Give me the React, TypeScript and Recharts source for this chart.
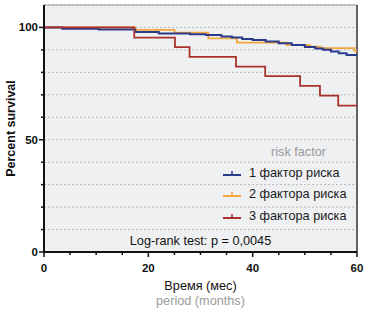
import { ComposedChart, Line, XAxis, YAxis, CartesianGrid, ReferenceLine, Legend } from "recharts"

// Kaplan-Meier steps (months / percent survival)
const seriesNames = ["1 фактор риска", "2 фактора риска", "3 фактора риска"]
const seriesColors = ["#2c3a8c", "#f2a73a", "#a9332b"]

const oneFactorTime = [0, 3.5, 10.5, 17.5, 22, 28, 31, 34, 36, 38, 40, 42.5, 45, 47.5, 50, 52, 53.5, 55, 56.5, 58, 60]
const oneFactorSurv = [100, 99.4, 99.1, 98.0, 97.3, 97.0, 96.6, 96.0, 95.5, 94.9, 94.4, 93.7, 93.0, 92.2, 91.3, 90.6, 90.1, 89.3, 88.5, 87.7, 87.6]

const twoFactorTime = [0, 17.5, 25, 31.5, 37, 46.5, 51, 53, 59.5, 60]
const twoFactorSurv = [100, 98.9, 97.7, 95.1, 93.2, 92.1, 91.4, 90.8, 89.6, 89.6]

const threeFactorTime = [0, 17.3, 25.1, 27.9, 36.8, 42.4, 49.1, 52.9, 56.4, 60]
const threeFactorSurv = [100, 95.5, 91.2, 86.9, 82.6, 78.3, 74.0, 69.6, 65.2, 65.2]

const xTicks = [0, 5, 10, 15, 20, 25, 30, 35, 40, 45, 50, 55, 60]
const xLabels = [0, 20, 40, 60]
const yTicks = [0, 10, 20, 30, 40, 50, 60, 70, 80, 90, 100]
const yLabels = [0, 50, 100]

const rows = (t: number[], s: number[]) => t.map((v, i) => ({ t: v, s: s[i] }))

const FONT = "'Liberation Sans', Arial, sans-serif"

const XTick = (props: any) => {
  const { x, y, payload } = props
  const major = xLabels.includes(payload.value)
  return (
    <g>
      <line x1={x} x2={x} y1={y} y2={y + (major ? 5 : 3)} stroke="#111" strokeWidth={1.5} />
      {major && (
        <text x={x} y={y + 16} textAnchor="middle" dominantBaseline="central" fontSize={11.5} fontWeight="bold" fill="#111">
          {payload.value}
        </text>
      )}
    </g>
  )
}

const YTick = (props: any) => {
  const { x, y, payload } = props
  const major = yLabels.includes(payload.value)
  return (
    <g>
      <line x1={x - (major ? 5 : 3)} x2={x} y1={y} y2={y} stroke="#111" strokeWidth={1.5} />
      {major && (
        <text x={x - 6} y={y} textAnchor="end" dominantBaseline="central" fontSize={11.5} fontWeight="bold" fill="#111">
          {payload.value}
        </text>
      )}
    </g>
  )
}

const LegendBox = () => (
  <div style={{ fontFamily: FONT, fontSize: 12.7, color: "#1a1a1a" }}>
    <div style={{ textAlign: "center", color: "#9a9a9a", height: 21, lineHeight: "21px", paddingLeft: 8 }}>
      risk factor
    </div>
    {seriesNames.map((name, i) => (
      <div key={name} style={{ display: "flex", alignItems: "center", height: 21.3 }}>
        <svg width={20} height={10} style={{ marginRight: 7 }}>
          <line x1={1} x2={19} y1={7} y2={7} stroke={seriesColors[i]} strokeWidth={2} />
          <line x1={10} x2={10} y1={3} y2={7} stroke={seriesColors[i]} strokeWidth={1.5} />
        </svg>
        <span>{name}</span>
      </div>
    ))}
  </div>
)

export default function App() {
  return (
    <div style={{ position: "absolute", left: 0, top: 0, width: 369, height: 312, background: "#fff", fontFamily: FONT }}>
      <ComposedChart width={369} height={312} margin={{ top: 5, right: 12, bottom: 0, left: 0 }}>
        <CartesianGrid
          vertical={false}
          fill="#eff0f2"
          stroke="#b8b8b8"
          strokeDasharray="2 2"
        />
        <XAxis
          dataKey="t"
          type="number"
          domain={[0, 60]}
          ticks={xTicks}
          interval={0}
          allowDataOverflow
          height={60}
          tickSize={0}
          tickMargin={0}
          tickLine={false}
          axisLine={{ stroke: "#111", strokeWidth: 2 }}
          tick={<XTick />}
          label={{
            content: (p: any) => {
              const vb = p.viewBox
              const cx = vb.x + vb.width / 2
              return (
                <g>
                  <text x={cx} y={vb.y + 34} textAnchor="middle" dominantBaseline="central" fontSize={12.7} fill="#111" fontFamily={FONT}>
                    Время (мес)
                  </text>
                  <text x={cx} y={vb.y + 48.5} textAnchor="middle" dominantBaseline="central" fontSize={12.7} fill="#9a9a9a" fontFamily={FONT}>
                    period (months)
                  </text>
                </g>
              )
            },
          }}
        />
        <YAxis
          type="number"
          domain={[0, 110]}
          ticks={yTicks}
          interval={0}
          allowDataOverflow
          width={44}
          tickSize={0}
          tickMargin={0}
          tickLine={false}
          axisLine={{ stroke: "#111", strokeWidth: 2 }}
          tick={<YTick />}
          label={{
            content: (p: any) => {
              const vb = p.viewBox
              const cy = vb.y + vb.height / 2
              return (
                <text x={11} y={cy} transform={`rotate(-90 11 ${cy})`} textAnchor="middle" dominantBaseline="central" fontSize={12.5} fontWeight="bold" fill="#111" fontFamily={FONT}>
                  Percent survival
                </text>
              )
            },
          }}
        />
        <ReferenceLine y={110} stroke="#9a9a9a" strokeWidth={1} />
        <ReferenceLine x={60} stroke="#333" strokeWidth={1.5} />
        <ReferenceLine
          y={5}
          stroke="none"
          label={{ value: "Log-rank test: p = 0,0045", position: "center", fontSize: 12.7, fill: "#111", fontFamily: FONT }}
        />
        <Line data={rows(twoFactorTime, twoFactorSurv)} dataKey="s" type="stepAfter" stroke={seriesColors[1]} strokeWidth={1.8} dot={false} isAnimationActive={false} name={seriesNames[1]} />
        <Line data={rows(oneFactorTime, oneFactorSurv)} dataKey="s" type="stepAfter" stroke={seriesColors[0]} strokeWidth={2} dot={false} isAnimationActive={false} name={seriesNames[0]} />
        <Line data={rows(threeFactorTime, threeFactorSurv)} dataKey="s" type="stepAfter" stroke={seriesColors[2]} strokeWidth={1.8} dot={false} isAnimationActive={false} name={seriesNames[2]} />
        <Legend
          layout="horizontal"
          verticalAlign="middle"
          align="center"
          content={() => <LegendBox />}
          wrapperStyle={{ left: 222, top: 141.5, width: 145 }}
        />
      </ComposedChart>
    </div>
  )
}
